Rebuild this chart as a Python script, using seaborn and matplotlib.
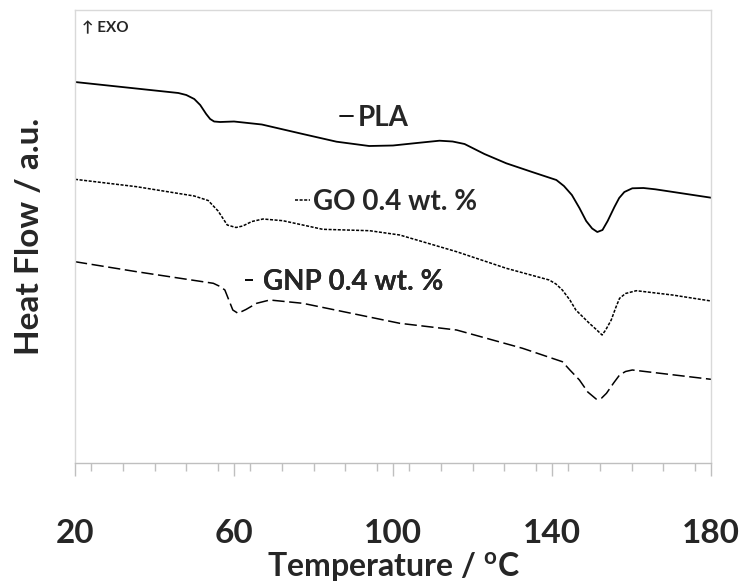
import seaborn as sns
import matplotlib.pyplot as plt
from matplotlib.ticker import MultipleLocator

# Values (temperature in degC, heat flow in a.u.)
temp_pla = [20, 46, 48, 50, 51.5, 53, 54, 55, 56.5, 60, 67, 77.3, 85.8,
            94, 100, 106, 111.7, 115, 118, 123, 128.5, 135, 141.1, 143, 145,
            146.9, 148.6, 150.1, 151.4, 152.7, 154, 155.7, 156.9, 158.2, 160.2,
            163, 166, 180]
hf_pla = [381, 370, 368, 364, 358, 349, 344, 341.5, 341, 341.5, 338.5, 329, 321.3,
          317, 317.5, 320, 322.3, 321.5, 319, 309, 299.7, 291, 283, 277, 268,
          255, 242, 234.5, 231, 233, 242, 256, 265, 271, 274.7,
          275, 273.7, 265.3]

temp_go = [20, 35.5, 50, 53.5, 56, 58.3, 60.5, 62.2, 64.5, 67.3, 72.3, 82.3,
           94.1, 101.7, 116, 128.5, 139.3, 141, 142.6, 144.5, 146, 149.4, 151,
           152.6, 153.5, 154.9, 156, 157, 158.5, 161.2, 170.3, 180]
hf_go = [283.7, 276.3, 267, 262.5, 252, 238, 235.5, 237, 241.5, 244, 242.3, 233.7,
         232.3, 228, 211.3, 194.7, 183, 179, 173, 163, 153, 139.7, 134,
         128, 133, 143, 155, 164.7, 169.5, 172.3, 168, 162]

temp_gnp = [20, 35.5, 54.8, 56.5, 57.7, 58.8, 59.7, 61, 63, 65.7, 69, 77.3,
            101.7, 116, 132.6, 142.6, 144.5, 146.9, 149, 151.1, 152.5, 153.7,
            155.5, 157, 158.5, 160.2, 180]
hf_gnp = [201.3, 191.3, 179.7, 176.5, 173, 162, 153, 149.7, 153.5, 159.7, 163,
          159.7, 139.7, 133, 114.7, 101.3, 93, 83, 71, 64, 65, 69.7,
          80, 88, 91.5, 93, 83.7]

series_labels = ['PLA', 'GO 0.4 wt. %', 'GNP 0.4 wt. %']
x_ticks = [20, 60, 100, 140, 180]

sns.set_theme(style='white')
plt.rcParams['font.family'] = ['Lato', 'DejaVu Sans']
plt.rcParams['font.weight'] = 'bold'
plt.rcParams['mathtext.fontset'] = 'custom'
plt.rcParams['mathtext.bf'] = 'Lato:bold'
plt.rcParams['mathtext.rm'] = 'Lato:bold'

fig = plt.figure(figsize=(7.43, 5.87), dpi=100)
ax = fig.add_axes([75 / 743, 1 - 463 / 587, 636 / 743, 453 / 587])

sns.lineplot(x=temp_pla, y=hf_pla, ax=ax, color='black', lw=1.3,
             linestyle='-', label=series_labels[0], legend=False)
sns.lineplot(x=temp_go, y=hf_go, ax=ax, color='black', lw=1.1,
             linestyle=(0, (2, 1)), label=series_labels[1], legend=False)
sns.lineplot(x=temp_gnp, y=hf_gnp, ax=ax, color='black', lw=1.1,
             linestyle=(0, (8, 3)), label=series_labels[2], legend=False)

ax.set_xlim(20, 180)
ax.set_ylim(0, 453)
ax.set_yticks([])
ax.xaxis.set_major_locator(MultipleLocator(40))
ax.xaxis.set_minor_locator(MultipleLocator(8))
ax.set_xticks(x_ticks)
ax.tick_params(axis='x', which='major', direction='out', length=9, width=1,
               color='#bfbfbf', pad=31, labelsize=24, bottom=True)
ax.tick_params(axis='x', which='minor', direction='out', length=6, width=1,
               color='#bfbfbf', bottom=True)
for side in ['top', 'left', 'right']:
    ax.spines[side].set_color('#d9d9d9')
ax.spines['bottom'].set_color('#bfbfbf')
for s in ax.spines.values():
    s.set_linewidth(1)

ax.set_xlabel(r'Temperature / $^{\mathbf{o}}$C', fontsize=23, fontweight='bold',
              labelpad=2)
ax.set_ylabel('Heat Flow / a.u.', fontsize=24, fontweight='bold', labelpad=22)

# one small legend per curve, placed next to it like the reference
lines = ax.get_lines()
spots = [(0.417, 0.762, 0.47, 0.15), (0.346, 0.576, 0.54, 0.1),
         (0.267, 0.40, 0.3, 0.36)]
for line, lab, (lx, ly, hl, tp) in zip(lines, series_labels, spots):
    leg = ax.legend([line], [lab], loc='center left', bbox_to_anchor=(lx, ly),
                    frameon=False, borderpad=0, borderaxespad=0,
                    handlelength=hl, handletextpad=tp,
                    prop={'family': 'Lato', 'weight': 'bold', 'size': 20})
    ax.add_artist(leg)

ax.text(0.011, 0.96, '↑ EXO', transform=ax.transAxes, fontsize=11,
        fontweight='bold', family=['Lato', 'DejaVu Sans'], va='center')

fig.savefig('out.png', dpi=100)
